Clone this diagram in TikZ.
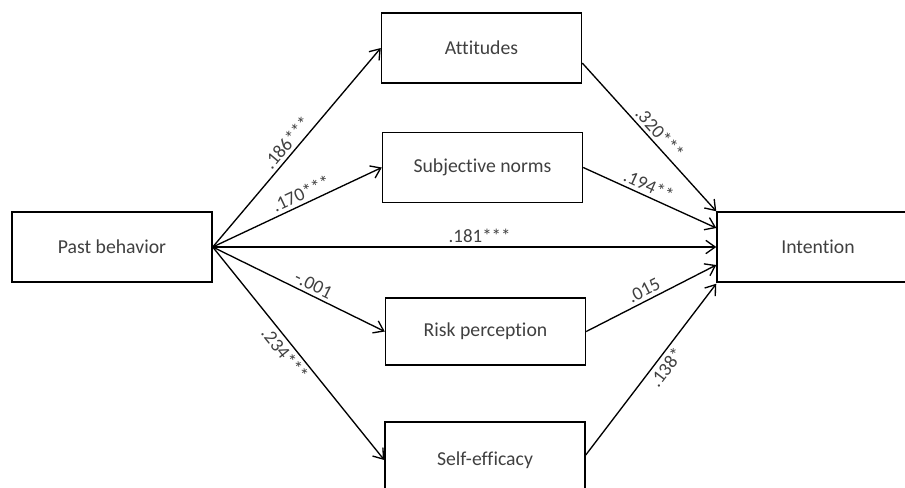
\documentclass[tikz,border=0pt]{standalone}
\usepackage{fontspec}
\setmainfont{Carlito}[Ligatures=NoCommon]
\usetikzlibrary{arrows.meta,calc}
\begin{document}
\begin{tikzpicture}[x=0.75pt, y=-0.75pt, >={Straight Barb[length=7pt,width=10pt]}]

		% Define styles for boxes, links and path coefficients
		\tikzstyle{construct} = [rectangle, draw, line width=1.1pt, minimum width=150pt,
		minimum height=52.5pt, inner sep=0pt, text=black!75, font=\fontsize{14.8}{17}\selectfont]
		\tikzstyle{link} = [->, line width=1pt]
		\tikzstyle{coef} = [sloped, text=black!75, inner sep=2.5pt, font=\fontsize{14.2}{17}\selectfont]

		\clip (0,0) rectangle (905,487);

		% Constructs
		\node[construct] (past) at (112,247) {Past behavior};
		\node[construct] (att) at (481.5,48) {Attitudes};
		\node[construct] (norm) at (482.5,167.5) {Subjective norms};
		\node[construct, minimum height=50pt] (risk) at (485.5,331.5) {Risk perception};
		\node[construct, minimum height=57pt] (self) at (485,460) {Self-efficacy};
		\node[construct, minimum width=151.5pt] (int) at (818,247) {Intention};

		% Paths from past behavior
		\draw[link] (past.east) -- (att.west) node[coef, above, pos=0.49] {.186***};
		\draw[link] (past.east) -- (norm.west) node[coef, above, pos=0.55] {.170***};
		\draw[link] (past.east) -- (int.west) node[coef, above, pos=0.53] {.181***};
		\draw[link] (past.east) -- (risk.west) node[coef, above, pos=0.56] {-.001};
		\draw[link] (past.east) -- (self.west) node[coef, below, pos=0.47] {.234***};

		% Paths to intention
		\draw[link] ($(att.east)+(0,15)$) -- (int.north west) node[coef, above, pos=0.52] {.320***};
		\draw[link] (norm.east) -- ($(int.west)+(0,-19)$) node[coef, above, pos=0.46] {.194**};
		\draw[link] (risk.east) -- ($(int.west)+(0,18)$) node[coef, above, pos=0.48] {.015};
		\draw[link] ($(self.east)+(0,-5)$) -- ($(int.south west)+(0,1)$) node[coef, below, pos=0.55] {.138*};

	\end{tikzpicture}
\end{document}
